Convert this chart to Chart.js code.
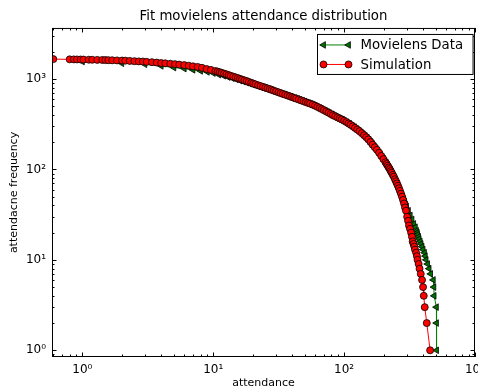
<!DOCTYPE html>
<html lang="en">
<head>
<meta charset="UTF-8">
<title>Fit movielens attendance distribution</title>
<style>
  html, body { margin: 0; padding: 0; background: #fff; overflow: hidden; }
  #wrap { width: 500px; height: 389px; }
</style>
</head>
<body>
<div id="wrap"><canvas id="chart" width="500" height="389"></canvas></div>
<script src="https://cdn.jsdelivr.net/npm/chart.js"></script>
<script>
// values
const movielensX = [1,2,3,4,5,6,7,8,9,10,11,12,13,14,15,16,17,18,19,20,
  21,22,23,24,25,26,27,28,29,30,31,32,33,34,35,36,37,38,39,40,
  42,44,46,48,50,52,54,56,58,60,62,65,67,70,72,75,77,80,82,85,87,90,92,95,97,
  100,105,110,115,120,125,130,135,140,145,150,155,160,165,170,175,180,185,190,195,
  200,205,210,215,220,225,230,235,240,245,250,255,260,265,270,275,280,285,290,295,300,
  310,320,330,340,350,357,362,
  364,371,374,381,387,394,401,411,417,423,434,446,458,480,485,487,507,508,509];
const movielensY = [1560,1493,1455,1397,1338,1304,1262,1230,1199,1163,1119,1085,1050,1018,990,960,936,912,889,867,
  848,830,813,797,782,767,755,744,731,719,709,699,689,679,670,661,653,645,637,630,
  616,603,589,576,563,550,540,530,518,507,495,478,467,452,443,430,421,408,401,390,383,373,367,359,354,
  346,333,320,306,293,280,268,256,245,234,224,213,202,191,180,170,161,153,145,138,
  131,124,118,112,106,100,94,88,83,78,73,68,64,60,56,53,50,47,44,41,39,
  35,31,28,25,23,21,20,
  19,18,17,16,15,14,13,12,11,10,9,8,7,6,5,4,3,2,1];

const simulationX = [0.60,0.80,0.86,0.91,0.97,1.02,1.12,1.19,1.30,1.42,1.50,1.58,1.69,1.84,2.01,2.13,
  2.3,2.5,2.7,2.9,3.1,3.4,3.7,4.0,4.3,4.7,5.1,5.5,6.0,6.5,7.0,7.6,8.2,8.9,9.6,
  10.4,10.8,11.2,11.6,12.1,12.6,13.1,13.6,14.2,14.8,15.4,16.0,16.6,17.3,18,18.7,19.5,20.2,21,22,
  23,24,25,26,27,28,29,30.2,31.5,32.7,34,35.5,37,38.5,40,41.5,43,45,47,49,
  51,53,55,57.5,60,62.5,65,67.5,70,73,76,79,82,85.5,89,92.5,96,100,104,108,
  112,116.5,121,126,131,136.5,142,147.5,153,159,165,171.5,178,185,192,199.5,207,211,215,219,
  223,227,231,235.5,240,244.5,249,253.5,258,262.5,267,272,277,282,287,292,297,
  303,308,313,319,325,330,334,339,344,348,355,360,364,371,377,385,394,401,406,413,428,454];
const simulationY = [1660,1650,1648,1646,1644,1641,1636,1632,1628,1624,1620,1616,1612,1606,1600,1596,
  1587,1575,1567,1560,1548,1536,1520,1502,1490,1475,1461,1443,1425,1404,1380,1361,1330,1290,1262,
  1226,1208,1190,1170,1148,1126,1105,1085,1064,1044,1024,1004,985,967,949,929,909,891,874,854,
  835,819,803,788,774,759,744,728,713,699,685,671,657,643,630,618,607,593,579,567,
  555,544,534,520,507,492,478,465,452,438,424,411,398,387,376,366,357,345,334,323,
  312,300,288,276,265,252,239,227,215,201,188,176,165,153,141,130,120,115,110,105,
  101,96,92,87,83,78,74,70,66,62,58,54,50,46,42,38,35,
  30,27,24,22,20,18,16,15,14,13,12,11,10,9,8,7,6,5,4,3,2,1];

const xLimits = [0.586, 1000];
const yLimits = [0.843, 3670];
const supDigits = ['\u2070', '\u00b9', '\u00b2', '\u00b3', '\u2074'];

Chart.defaults.font.family = "'DejaVu Sans', 'Liberation Sans', sans-serif";
Chart.defaults.color = '#000';

function powLabel(value) {
    const e = Math.log10(value);
    if (Math.abs(e - Math.round(e)) > 1e-6) return '';
    const n = Math.round(e);
    return '10' + (n < 0 ? '\u207b' : '') + supDigits[Math.abs(n)];
}

function toPoints(xs, ys) {
    return xs.map((x, i) => ({ x: x, y: ys[i] }));
}

// matplotlib style frame: ticks pointing inward on all four sides
const mplFrame = {
    id: 'mplFrame',
    afterDatasetsDraw(chart) {
        const { ctx, chartArea: a, scales } = chart;
        const xs = scales.x, ys = scales.y;
        ctx.save();
        ctx.strokeStyle = '#000';
        ctx.lineWidth = 1;
        ctx.beginPath();
        for (let e = -1; e <= 3; e++) {
            for (let k = 1; k <= 9; k++) {
                const v = k * Math.pow(10, e);
                const len = k === 1 ? 4.5 : 2.5;
                if (v >= xLimits[0] && v <= xLimits[1]) {
                    const p = Math.round(xs.getPixelForValue(v)) + 0.5;
                    ctx.moveTo(p, a.bottom); ctx.lineTo(p, a.bottom - len);
                    ctx.moveTo(p, a.top); ctx.lineTo(p, a.top + len);
                }
                if (v >= yLimits[0] && v <= yLimits[1]) {
                    const p = Math.round(ys.getPixelForValue(v)) + 0.5;
                    ctx.moveTo(a.left, p); ctx.lineTo(a.left + len, p);
                    ctx.moveTo(a.right, p); ctx.lineTo(a.right - len, p);
                }
            }
        }
        ctx.stroke();
        ctx.strokeRect(a.left + 0.5, a.top + 0.5, a.width - 1, a.height - 1);
        ctx.restore();
    }
};

// legend box in the upper right, like matplotlib's
const mplLegend = {
    id: 'mplLegend',
    afterDraw(chart) {
        const { ctx, chartArea: a } = chart;
        const order = [0, 1];
        ctx.save();
        ctx.font = "13.3px 'DejaVu Sans', sans-serif";
        const labels = order.map(i => chart.data.datasets[i].label);
        const textW = Math.max(...labels.map(t => ctx.measureText(t).width));
        const w = 43 + textW + 10;
        const h = 40;
        const left = Math.round(a.right - 2 - w) + 0.5;
        const top = a.top + 6.5;
        ctx.fillStyle = '#fff';
        ctx.strokeStyle = '#000';
        ctx.lineWidth = 1;
        ctx.fillRect(left, top, w, h);
        ctx.strokeRect(left, top, w, h);
        order.forEach((di, row) => {
            const ds = chart.data.datasets[di];
            const cy = top + 10.5 + row * 19.5;
            ctx.strokeStyle = ds.borderColor;
            ctx.lineWidth = ds.borderWidth;
            ctx.beginPath();
            ctx.moveTo(left + 6, cy);
            ctx.lineTo(left + 31, cy);
            ctx.stroke();
            [left + 6, left + 31].forEach(px => {
                ctx.fillStyle = ds.pointBackgroundColor;
                ctx.strokeStyle = ds.pointBorderColor;
                ctx.lineWidth = ds.pointBorderWidth;
                Chart.helpers.drawPoint(ctx, {
                    pointStyle: ds.pointStyle,
                    rotation: ds.pointRotation || 0,
                    radius: ds.pointRadius,
                    borderWidth: ds.pointBorderWidth
                }, px, cy);
            });
            ctx.fillStyle = '#000';
            ctx.textBaseline = 'middle';
            ctx.textAlign = 'left';
            ctx.fillText(ds.label, left + 43, cy + 1);
        });
        ctx.restore();
    }
};

new Chart(document.getElementById('chart'), {
    type: 'line',
    data: {
        datasets: [
            {
                label: 'Movielens Data',
                data: toPoints(movielensX, movielensY),
                order: 2,
                borderColor: '#008000',
                borderWidth: 1,
                pointStyle: 'triangle',
                pointRotation: -90,
                pointRadius: 3.8,
                pointBackgroundColor: '#007000',
                pointBorderColor: '#000',
                pointBorderWidth: 0.8,
                clip: 0
            },
            {
                label: 'Simulation',
                data: toPoints(simulationX, simulationY),
                order: 1,
                borderColor: '#ff0000',
                borderWidth: 1,
                pointStyle: 'circle',
                pointRadius: 3.5,
                pointBackgroundColor: '#ff0000',
                pointBorderColor: '#000',
                pointBorderWidth: 0.8,
                clip: 0
            }
        ]
    },
    options: {
        responsive: false,
        animation: false,
        events: [],
        layout: { padding: { left: 0, right: 25, top: 0, bottom: 0 } },
        scales: {
            x: {
                type: 'logarithmic',
                min: xLimits[0],
                max: xLimits[1],
                grid: { display: false, drawTicks: false },
                border: { display: false },
                ticks: { autoSkip: false, maxRotation: 0, padding: 6, font: { size: 12 }, callback: powLabel },
                title: { display: true, text: 'attendance', font: { size: 11, lineHeight: 1 }, padding: { top: 0, bottom: 0 } },
                afterFit(scale) { scale.height = 32; }
            },
            y: {
                type: 'logarithmic',
                min: yLimits[0],
                max: yLimits[1],
                grid: { display: false, drawTicks: false },
                border: { display: false },
                ticks: { autoSkip: false, padding: 6, font: { size: 12 }, callback: powLabel },
                title: { display: true, text: 'attendacne frequency', font: { size: 11 }, padding: { top: 8, bottom: 0 } },
                afterFit(scale) { scale.width = 52; }
            }
        },
        plugins: {
            legend: { display: false },
            tooltip: { enabled: false },
            title: {
                display: true,
                fullSize: false,
                text: 'Fit movielens attendance distribution',
                font: { size: 13.3, weight: 'normal' },
                color: '#000',
                padding: { top: 9, bottom: 3 }
            }
        }
    },
    plugins: [mplFrame, mplLegend]
});
</script>
</body>
</html>
